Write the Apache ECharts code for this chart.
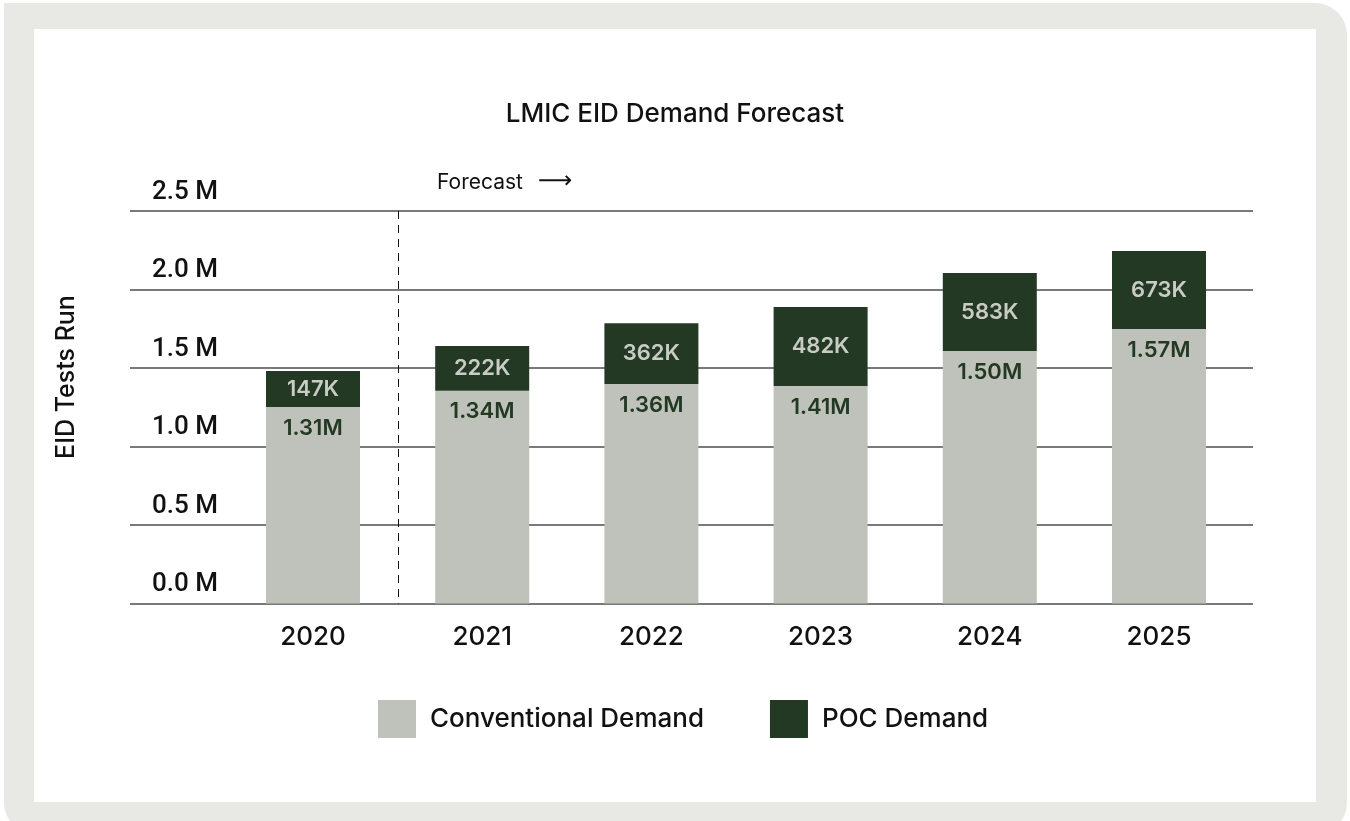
<!DOCTYPE html>
<html>
<head>
<meta charset="utf-8">
<script src="https://cdn.jsdelivr.net/npm/echarts@6/dist/echarts.min.js"></script>
<style>
  html, body { margin: 0; padding: 0; background: #fff; }
  #frame {
    position: absolute; left: 4px; top: 3px; width: 1343px; height: 830px;
    background: #e8e8e4; border-radius: 0 32px 30px 30px;
  }
  #panel {
    position: absolute; left: 34px; top: 29px; width: 1282px; height: 773px;
    background: #fff;
  }
  #chart { position: absolute; left: 0; top: 0; width: 1350px; height: 821px; }
</style>
</head>
<body>
<div id="frame"></div>
<div id="panel"></div>
<div id="chart"></div>
<script>
// years on the x axis
const years = ['2020', '2021', '2022', '2023', '2024', '2025'];
// bar heights as drawn (millions)
const conventional = [1.252, 1.355, 1.398, 1.385, 1.608, 1.748];
const poc = [0.229, 0.285, 0.387, 0.504, 0.497, 0.497];
// printed labels on the bars
const conventionalLabels = ['1.31M', '1.34M', '1.36M', '1.41M', '1.50M', '1.57M'];
const pocLabels = ['147K', '222K', '362K', '482K', '583K', '673K'];
// y ticks
const yTicks = [0, 0.5, 1.0, 1.5, 2.0, 2.5];

const FONT = 'Inter, "Noto Sans", sans-serif';
const gridTop = 211, gridBottom = 821 - 603.5;

const chart = echarts.init(document.getElementById('chart'));

const option = {
    animation: false,
    title: {
        text: 'LMIC EID Demand Forecast',
        left: 'center',
        top: 96,
        textStyle: { fontFamily: FONT, fontSize: 26, fontWeight: 500, color: '#111' }
    },
    legend: {
        data: ['Conventional Demand', 'POC Demand'],
        left: 373,
        top: 695,
        icon: 'rect',
        itemWidth: 38,
        itemHeight: 38,
        itemGap: 66,
        textStyle: { fontFamily: FONT, fontSize: 26, fontWeight: 500, color: '#111', padding: [0, 0, 0, 9] }
    },
    grid: [
        { left: 130, right: 97, top: gridTop, bottom: gridBottom },
        { left: 228.4, right: 106.4, top: gridTop, bottom: gridBottom }
    ],
    xAxis: [
        { gridIndex: 0, type: 'value', min: 0, max: 1, show: false },
        {
            gridIndex: 1,
            type: 'category',
            data: years,
            axisLine: { show: false },
            axisTick: { show: false },
            axisLabel: { fontFamily: FONT, fontSize: 26, fontWeight: 500, color: '#111', margin: 21 }
        }
    ],
    yAxis: [
        {
            gridIndex: 0,
            type: 'value',
            min: 0,
            max: 2.5,
            interval: 0.5,
            axisLine: { show: false },
            axisTick: { show: false },
            splitLine: { lineStyle: { color: '#4d4d4d', width: 1.5 } },
            axisLabel: {
                inside: true,
                margin: 22,
                align: 'left',
                verticalAlign: 'bottom',
                padding: [0, 0, 6, 0],
                fontFamily: 'Roboto, sans-serif',
                fontSize: 26,
                fontWeight: 500,
                color: '#111',
                formatter: v => yTicks.includes(v) ? v.toFixed(1) + ' M' : ''
            }
        },
        { gridIndex: 1, type: 'value', min: 0, max: 2.5, interval: 0.5, show: false }
    ],
    series: [
        {
            name: 'Conventional Demand',
            type: 'bar',
            stack: 'total',
            xAxisIndex: 1,
            yAxisIndex: 1,
            barWidth: 94,
            itemStyle: { color: '#bfc2ba' },
            label: {
                show: true,
                position: 'insideTop',
                distance: 10,
                fontFamily: FONT,
                fontSize: 22,
                fontWeight: 600,
                color: '#233924',
                formatter: p => conventionalLabels[p.dataIndex]
            },
            data: conventional
        },
        {
            name: 'POC Demand',
            type: 'bar',
            stack: 'total',
            xAxisIndex: 1,
            yAxisIndex: 1,
            barWidth: 94,
            itemStyle: { color: '#233924' },
            label: {
                show: true,
                position: 'inside',
                fontFamily: FONT,
                fontSize: 22,
                fontWeight: 600,
                color: '#c9ccc4',
                formatter: p => pocLabels[p.dataIndex]
            },
            data: poc
        }
    ]
};

chart.setOption(option);

// dashed forecast divider between the first two years, plus annotation texts
const x0 = chart.convertToPixel({ xAxisIndex: 1 }, years[0]);
const x1 = chart.convertToPixel({ xAxisIndex: 1 }, years[1]);
const yTop = chart.convertToPixel({ yAxisIndex: 1 }, 2.5);
const yBot = chart.convertToPixel({ yAxisIndex: 1 }, 0);
const xm = Math.round((x0 + x1) / 2) + 0.5;

chart.setOption({
    graphic: [
        {
            type: 'line',
            shape: { x1: xm, y1: yTop, x2: xm, y2: yBot },
            style: { stroke: '#111', lineWidth: 1, lineDash: [8, 6] },
            z: 5
        },
        {
            type: 'text',
            x: 437,
            y: 183,
            style: {
                text: 'Forecast',
                fontFamily: FONT,
                fontSize: 21,
                fill: '#111',
                verticalAlign: 'middle'
            }
        },
        {
            type: 'text',
            x: 538,
            y: 182,
            style: {
                text: '⟶',
                fontFamily: '"DejaVu Sans", sans-serif',
                fontSize: 24,
                fill: '#111',
                verticalAlign: 'middle'
            }
        },
        {
            type: 'text',
            x: 66,
            y: 377,
            rotation: Math.PI / 2,
            style: {
                text: 'EID Tests Run',
                fontFamily: FONT,
                fontSize: 25,
                fontWeight: 500,
                fill: '#111',
                align: 'center',
                verticalAlign: 'middle'
            }
        }
    ]
});
</script>
</body>
</html>
